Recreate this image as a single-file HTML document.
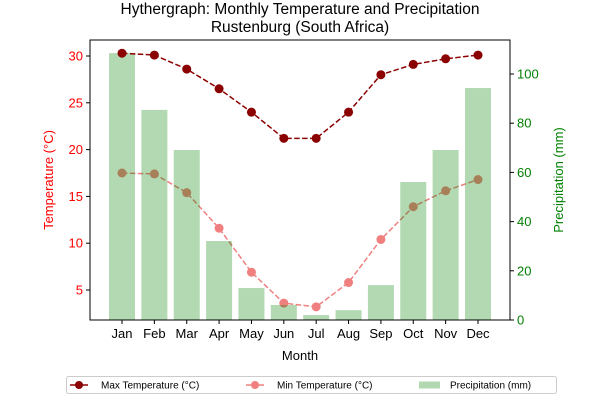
<!DOCTYPE html>
<html><head><meta charset="utf-8"><style>
body{margin:0;background:#fff;}
svg text{font-family:"Liberation Sans","DejaVu Sans",sans-serif;}
</style></head><body>
<svg id="chart" width="600" height="400" xmlns="http://www.w3.org/2000/svg"></svg>
<script>
const months=["Jan","Feb","Mar","Apr","May","Jun","Jul","Aug","Sep","Oct","Nov","Dec"];
const maxTemp=[30.3,30.1,28.6,26.5,24.0,21.2,21.2,24.0,28.0,29.1,29.7,30.1];
const minTemp=[17.5,17.4,15.4,11.6,6.9,3.6,3.2,5.8,10.4,13.9,15.6,16.8];
const precip=[108.5,85.4,69.1,32.1,13,6.1,2,4,14.2,56.1,69.1,94.3];
const leftTicks=[5,10,15,20,25,30];
const rightTicks=[0,20,40,60,80,100];

const svg=document.getElementById('chart');
const NS="http://www.w3.org/2000/svg";
function mk(tag,attrs,parent){const e=document.createElementNS(NS,tag);for(const k in attrs)e.setAttribute(k,attrs[k]);(parent||svg).appendChild(e);return e;}
const L=90,R=510,T=40,B=320;
const xs=i=>122+i*(478-122)/11;
const yl=v=>290-(v-5)*9.36;
const yr=v=>320-v*2.46;

function series(data,color,name){
 const pts=data.map((v,i)=>xs(i)+','+yl(v)).join(' ');
 const l=mk('polyline',{points:pts,fill:'none',stroke:color,'stroke-width':1.5,'stroke-dasharray':'5.5,2.4'});
 
 
 data.forEach((v,i)=>{
  const c=mk('circle',{cx:xs(i),cy:yl(v),r:4.5,fill:color});
  
  
 });
}
series(minTemp,'#f08080','min-temp');
precip.forEach((v,i)=>{
 const b=mk('rect',{x:xs(i)-13,y:yr(v),width:26,height:320-yr(v),fill:'#008000','fill-opacity':0.3});
 
 
});
series(maxTemp,'#8b0000','max-temp');
const f=mk('rect',{x:L,y:T,width:R-L,height:B-T,fill:'none',stroke:'#000','stroke-width':1});

leftTicks.forEach(t=>{
 mk('line',{x1:L-4,x2:L,y1:yl(t),y2:yl(t),stroke:'#000'});
 const tx=mk('text',{x:L-7,y:yl(t)+4.5,'text-anchor':'end','font-size':13,fill:'red'});tx.textContent=t;
 
});
rightTicks.forEach(t=>{
 mk('line',{x1:R,x2:R+4,y1:yr(t),y2:yr(t),stroke:'#000'});
 const tx=mk('text',{x:R+7,y:yr(t)+4.5,'font-size':13,fill:'green'});tx.textContent=t;
 
});
months.forEach((m,i)=>{
 mk('line',{x1:xs(i),x2:xs(i),y1:B,y2:B+4,stroke:'#000'});
 const tx=mk('text',{x:xs(i),y:B+18,'text-anchor':'middle','font-size':13});tx.textContent=m;
 
});
</script>
<svg width="600" height="400" style="position:absolute;left:0;top:0" xmlns="http://www.w3.org/2000/svg">
<text x="300" y="14" text-anchor="middle" font-size="15.5">Hythergraph: Monthly Temperature and Precipitation</text>
<text x="300" y="32" text-anchor="middle" font-size="15.5">Rustenburg (South Africa)</text>
<text x="300" y="360" text-anchor="middle" font-size="13">Month</text>
<text transform="translate(53,180) rotate(-90)" text-anchor="middle" font-size="13" fill="red">Temperature (°C)</text>
<text transform="translate(563,180) rotate(-90)" text-anchor="middle" font-size="13" fill="green">Precipitation (mm)</text>
<g>
<rect x="66.5" y="376.5" width="490" height="17" rx="2" fill="#fff" stroke="#ccc"/>
<g>
<line x1="70" x2="88" y1="385" y2="385" stroke="#8b0000" stroke-width="1.5"/><circle cx="79" cy="385" r="4" fill="#8b0000"/>
<text x="101" y="388.5" font-size="10">Max Temperature (°C)</text></g>
<g>
<line x1="246" x2="264" y1="385" y2="385" stroke="#f08080" stroke-width="1.5"/><circle cx="255" cy="385" r="4" fill="#f08080"/>
<text x="277" y="388.5" font-size="10">Min Temperature (°C)</text></g>
<g>
<rect x="419" y="381.5" width="21" height="7" fill="#b2d8b2"/>
<text x="450" y="388.5" font-size="10">Precipitation (mm)</text></g>
</g>
</svg>
</body></html>
